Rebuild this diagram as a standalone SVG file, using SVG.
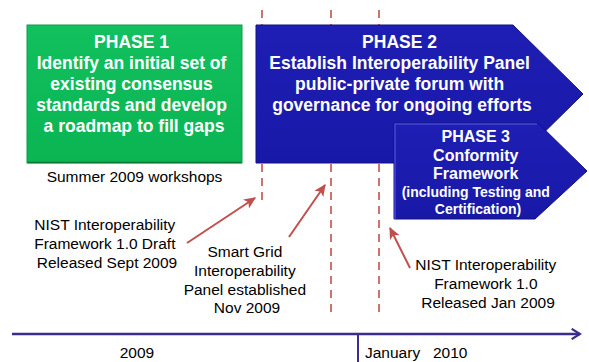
<svg xmlns="http://www.w3.org/2000/svg" width="589" height="362" viewBox="0 0 589 362">
  <defs>
    <linearGradient id="gGreen" x1="0" y1="0" x2="0" y2="1">
      <stop offset="0" stop-color="#12C05E"/>
      <stop offset="1" stop-color="#0AB552"/>
    </linearGradient>
    <linearGradient id="gBlue" x1="0" y1="0" x2="0" y2="1">
      <stop offset="0" stop-color="#1E1EB4"/>
      <stop offset="1" stop-color="#1818A8"/>
    </linearGradient>
    <marker id="redHead" viewBox="0 0 10 10" refX="9" refY="5" markerWidth="6" markerHeight="6" orient="auto" markerUnits="strokeWidth">
      <path d="M0,0.5 L10,5 L0,9.5 L2.5,5 Z" fill="#C0504D"/>
    </marker>
    <marker id="tlHead" viewBox="0 0 12 12" refX="10" refY="6" markerWidth="5" markerHeight="5" orient="auto" markerUnits="strokeWidth">
      <path d="M2,1 L10,6 L2,11" fill="none" stroke="#3D2B8E" stroke-width="2"/>
    </marker>
  </defs>
  <style>
    .dash { stroke: #C0504D; stroke-width: 1.6; stroke-dasharray: 8 6; fill: none; }
    .red { stroke: #C0504D; stroke-width: 2; fill: none; marker-end: url(#redHead); }
    .wb { font-family: "Liberation Sans", Arial, sans-serif; font-weight: bold; fill: #FFFFFF; text-anchor: middle; }
    .lab { font-family: "Liberation Sans", Arial, sans-serif; font-size: 15.5px; fill: #000000; text-anchor: middle; }
  </style>
  <rect width="589" height="362" fill="#FFFFFF"/>

  <g id="guides">
    <line class="dash" x1="262" y1="10" x2="262" y2="205"/>
    <line class="dash" x1="331" y1="10" x2="331" y2="317"/>
    <line class="dash" x1="379" y1="10" x2="379" y2="317"/>
  </g>

  <g id="phase1">
    <rect x="27" y="25" width="215" height="138" fill="url(#gGreen)" stroke="#0E9A4A" stroke-width="1"/>
    <line x1="27.5" y1="162.5" x2="241.5" y2="162.5" stroke="#0A7A3A" stroke-width="1.5"/>
    <text class="wb" font-size="17.5" x="134">
      <tspan x="134" y="48">PHASE 1</tspan>
      <tspan x="134" y="69">Identify an initial set of</tspan>
      <tspan x="134" y="90">existing consensus</tspan>
      <tspan x="134" y="111">standards and develop</tspan>
      <tspan x="134" y="132">a roadmap to fill gaps</tspan>
    </text>
  </g>

  <g id="phase2">
    <path d="M256,25 L513,25 L583,94 L513,163 L256,163 Z" fill="url(#gBlue)" stroke="#12127E" stroke-width="1"/>
    <text class="wb" font-size="17.5">
      <tspan x="402" y="48">PHASE 2</tspan>
      <tspan x="402" y="69">Establish Interoperability Panel</tspan>
      <tspan x="402" y="90">public-private forum with</tspan>
      <tspan x="402" y="111">governance for ongoing efforts</tspan>
    </text>
  </g>

  <g id="phase3">
    <path d="M394,123 L538,123 L587,171 L535,219 L394,219 Z" fill="url(#gBlue)" stroke="#12127E" stroke-width="1"/>
    <path d="M395,219 L395,124 L537,124" fill="none" stroke="#4646D6" stroke-width="1.5"/>
    <text class="wb">
      <tspan x="478" y="142" font-size="16">PHASE 3</tspan>
      <tspan x="478" y="161" font-size="16">Conformity</tspan>
      <tspan x="478" y="179" font-size="16">Framework</tspan>
      <tspan x="478" y="197" font-size="14">(including Testing and</tspan>
      <tspan x="478" y="214" font-size="14">Certification)</tspan>
    </text>
  </g>

  <g id="connectors">
    <line class="red" x1="187" y1="243" x2="255" y2="198"/>
    <line class="red" x1="289" y1="237" x2="325" y2="185"/>
    <line class="red" x1="410" y1="268" x2="390" y2="228"/>
  </g>

  <g id="label-summer">
    <text class="lab" x="134.5" y="182">Summer 2009 workshops</text>
  </g>
  <g id="label-draft">
    <text class="lab">
      <tspan x="107" y="230">NIST Interoperability</tspan>
      <tspan x="107" y="249">Framework 1.0 Draft</tspan>
      <tspan x="107" y="268">Released Sept 2009</tspan>
    </text>
  </g>
  <g id="label-panel">
    <text class="lab">
      <tspan x="247" y="257">Smart Grid</tspan>
      <tspan x="247" y="276">Interoperability</tspan>
      <tspan x="247" y="295">Panel established</tspan>
      <tspan x="247" y="313">Nov 2009</tspan>
    </text>
  </g>
  <g id="label-final">
    <text class="lab">
      <tspan x="488" y="270">NIST Interoperability</tspan>
      <tspan x="488" y="289">Framework 1.0</tspan>
      <tspan x="488" y="308">Released Jan 2009</tspan>
    </text>
  </g>

  <g id="timeline">
    <line x1="12" y1="334" x2="580" y2="334" stroke="#3D2B8E" stroke-width="2.5" marker-end="url(#tlHead)"/>
    <line x1="358" y1="334" x2="358" y2="362" stroke="#3D2B8E" stroke-width="2"/>
    <text class="lab" x="137" y="358">2009</text>
    <text class="lab" x="365" y="358" style="text-anchor:start">January</text>
    <text class="lab" x="433" y="358" style="text-anchor:start">2010</text>
  </g>
</svg>
